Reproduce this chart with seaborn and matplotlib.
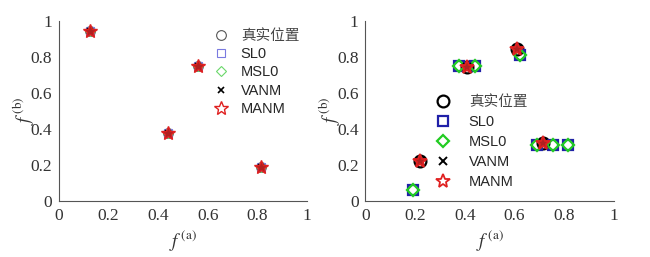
import numpy as np
import pandas as pd
import matplotlib
matplotlib.use("Agg")
import matplotlib.pyplot as plt
import seaborn as sns

sns.set_style("white")
plt.rcParams['font.family'] = ['Liberation Serif', 'Noto Sans CJK SC']
plt.rcParams['mathtext.fontset'] = 'stix'

methods = ['真实位置', 'SL0', 'MSL0', 'VANM', 'MANM']

# left panel: all methods land on the true positions
left_x = [0.125, 0.44, 0.56, 0.815]
left_y = [0.94, 0.375, 0.75, 0.19]

# right panel
true_x = [0.22, 0.41, 0.61, 0.715]
true_y = [0.22, 0.745, 0.845, 0.32]
sl0_x = [0.19, 0.375, 0.44, 0.62, 0.69, 0.755, 0.815]
sl0_y = [0.06, 0.75, 0.75, 0.81, 0.31, 0.31, 0.31]
msl0_x = [0.19, 0.375, 0.44, 0.62, 0.69, 0.755, 0.815]
msl0_y = [0.06, 0.75, 0.75, 0.81, 0.31, 0.31, 0.31]

left_data = {m: (left_x, left_y) for m in methods}
right_data = {
    '真实位置': (true_x, true_y),
    'SL0': (sl0_x, sl0_y),
    'MSL0': (msl0_x, msl0_y),
    'VANM': (true_x, true_y),
    'MANM': (true_x, true_y),
}

markers = {'真实位置': 'o', 'SL0': 's', 'MSL0': 'D', 'VANM': 'x', 'MANM': '*'}
left_style = {
    '真实位置': dict(color='#555555', ms=7, mew=0.8, fc='none'),
    'SL0': dict(color='#7a7ae0', ms=6, mew=0.8, fc='none'),
    'MSL0': dict(color='#6ad86a', ms=5.5, mew=0.8, fc='none'),
    'VANM': dict(color='black', ms=5, mew=1.2, fc='none'),
    'MANM': dict(color='#e02020', ms=10, mew=1.0, fc='#b02020'),
}
right_style = {
    '真实位置': dict(color='black', ms=8.5, mew=1.6, fc='none'),
    'SL0': dict(color='#2020a8', ms=6.5, mew=1.6, fc='none'),
    'MSL0': dict(color='#22cc22', ms=6, mew=1.6, fc='none'),
    'VANM': dict(color='black', ms=5.5, mew=1.4, fc='none'),
    'MANM': dict(color='#e02020', ms=10.5, mew=1.3, fc='#b02020'),
}

fig = plt.figure(figsize=(6.5, 2.57), dpi=100)
ax1 = fig.add_axes([0.0908, 0.2179, 0.3815, 0.702])
ax2 = fig.add_axes([0.5623, 0.2179, 0.3823, 0.702])


def draw(ax, data, styles):
    for m in methods:
        xs, ys = data[m]
        df = pd.DataFrame({'x': xs, 'y': ys})
        st = styles[m]
        sns.lineplot(data=df, x='x', y='y', ax=ax, estimator=None, sort=False,
                     linestyle='none', marker=markers[m], color=st['color'],
                     markersize=st['ms'], markeredgewidth=st['mew'],
                     markerfacecolor=st['fc'], markeredgecolor=st['color'],
                     label=m)


draw(ax1, left_data, left_style)
draw(ax2, right_data, right_style)

for ax in (ax1, ax2):
    ax.set_xlim(0, 1)
    ax.set_ylim(0, 1)
    ticks = [0, 0.2, 0.4, 0.6, 0.8, 1]
    labels = ['0', '0.2', '0.4', '0.6', '0.8', '1']
    ax.set_xticks(ticks, labels)
    ax.set_yticks(ticks, labels)
    ax.tick_params(direction='in', length=3, width=0.8, colors='#333333',
                   labelsize=12.5, labelcolor='#333333')
    ax.tick_params(axis='x', pad=5)
    ax.tick_params(axis='y', pad=5)
    for s in ('top', 'right'):
        ax.spines[s].set_visible(False)
    for s in ('left', 'bottom'):
        ax.spines[s].set_color('#555555')
        ax.spines[s].set_linewidth(0.8)
    ax.set_xlabel(r'$f^{\,\mathrm{(a)}}$', fontsize=13.5, color='#333333', labelpad=3)
    ax.set_ylabel(r'$f^{\,\mathrm{(b)}}$', fontsize=13.5, color='#333333', labelpad=-4)

leg_font = {'family': ['Liberation Sans', 'Noto Sans CJK SC'], 'size': 10.5}
leg1 = ax1.legend(loc='upper left', bbox_to_anchor=(0.617, 0.955), frameon=False,
                  prop=leg_font, borderpad=0, borderaxespad=0, handletextpad=0.77,
                  labelspacing=0.3, handlelength=1.2)
leg2 = ax2.legend(loc='upper left', bbox_to_anchor=(0.276, 0.585), frameon=False,
                  prop=leg_font, borderpad=0, borderaxespad=0, handletextpad=1.18,
                  labelspacing=0.4, handlelength=1.2)
for leg in (leg1, leg2):
    for h in leg.legend_handles:
        h.set_markerfacecolor('none')
    leg.get_texts()[0].set_color('#444444')

fig.savefig('out.png', dpi=100)
